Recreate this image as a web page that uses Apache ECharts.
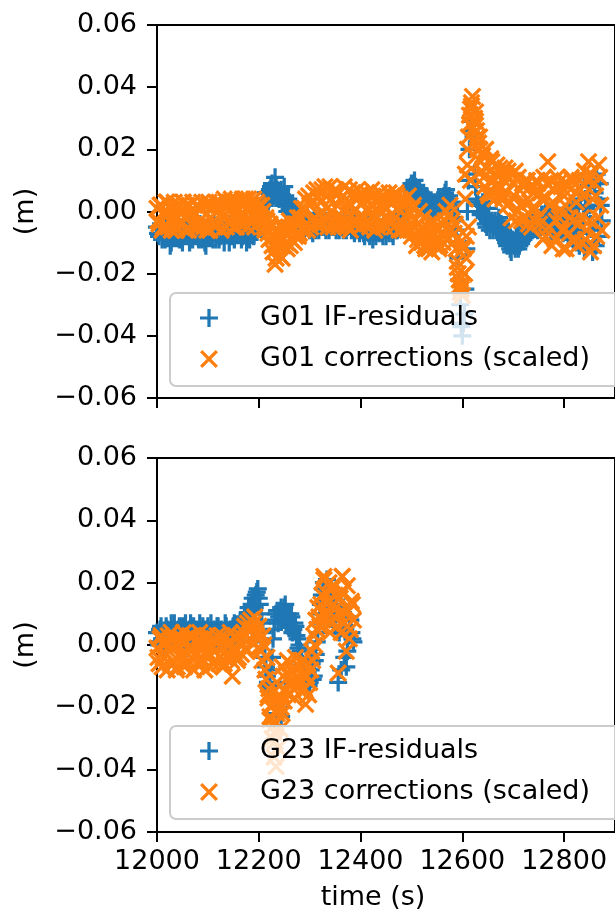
<!DOCTYPE html>
<html>
<head>
<meta charset="utf-8">
<script src="https://cdn.jsdelivr.net/npm/echarts@6/dist/echarts.min.js"></script>
<style>
html,body{margin:0;padding:0;background:#fff;}
#c{width:615px;height:915px;}
</style>
</head>
<body>
<div id="c"></div>
<script>
// ---------- DATA ----------
// sampling: set A at time = T0_A + i*DT, set B at time = T0_B + i*DT (s)
const T0_A = 12000;
const T0_B = 12002;
const DT = 4;
const xTicks = [12000, 12200, 12400, 12600, 12800];

const seriesNames = ['G01 IF-residuals', 'G01 corrections (scaled)', 'G23 IF-residuals', 'G23 corrections (scaled)'];

// G01 IF-residuals (m)
const g01ResidA = [
 -0.005,-0.008,-0.004,-0.007,-0.009,-0.005,-0.006,-0.010,-0.004,-0.007,
 -0.006,-0.009,-0.005,-0.008,-0.004,-0.007,-0.010,-0.006,-0.005,-0.008,
 -0.007,-0.004,-0.009,-0.006,-0.011,-0.005,-0.008,-0.006,-0.004,-0.009,
 -0.006,-0.008,-0.005,-0.010,-0.007,-0.004,-0.008,-0.006,-0.009,-0.005,
 -0.007,-0.004,-0.008,-0.006,-0.010,-0.005,-0.007,-0.004,-0.006,-0.003,
 -0.002,0.001,0.003,0.002,0.006,0.004,0.008,0.005,0.011,0.007,
 0.004,0.007,0.002,0.005,0.000,0.003,-0.001,0.001,-0.003,-0.001,
 -0.002,-0.004,-0.003,-0.005,-0.002,-0.006,-0.004,-0.003,-0.006,-0.004,
 -0.002,-0.005,-0.003,-0.006,-0.004,-0.002,-0.005,-0.003,-0.006,-0.004,
 -0.003,-0.005,-0.002,-0.006,-0.004,-0.003,-0.005,-0.007,-0.004,-0.005,
 -0.006,-0.004,-0.008,-0.005,-0.007,-0.004,-0.009,-0.006,-0.005,-0.007,
 -0.005,-0.008,-0.006,-0.004,-0.007,-0.005,-0.008,-0.004,-0.006,-0.003,
 -0.002,0.001,0.004,0.007,0.005,0.009,0.006,0.008,0.005,0.007,
 0.004,0.006,0.002,0.004,0.000,0.003,-0.001,0.002,0.000,0.003,
 0.002,0.005,0.007,0.004,0.001,0.003,-0.002,-0.006,-0.015,-0.030,
 -0.040,-0.033,-0.012,0.010,0.026,0.030,0.012,0.004,0.002,-0.001,
 0.003,-0.002,-0.005,0.001,-0.004,-0.006,-0.003,-0.005,-0.002,-0.004,
 -0.006,-0.009,-0.011,-0.008,-0.013,-0.010,-0.012,-0.009,-0.011,-0.007,
 -0.009,-0.006,-0.004,-0.007,-0.003,-0.005,-0.002,-0.006,-0.004,-0.001,
 -0.003,0.000,-0.005,-0.002,-0.007,-0.004,0.001,-0.003,-0.006,-0.002,
 -0.005,-0.001,-0.008,-0.003,0.002,-0.006,-0.010,-0.002,0.004,-0.007,
 -0.012,0.001,0.008,-0.004,-0.013,0.006,0.012,-0.008,0.002
];
const g01ResidB = [
 -0.007,-0.005,-0.009,-0.006,-0.004,-0.008,-0.011,-0.005,-0.008,-0.006,
 -0.004,-0.007,-0.010,-0.005,-0.008,-0.006,-0.004,-0.009,-0.007,-0.005,
 -0.009,-0.006,-0.005,-0.010,-0.007,-0.004,-0.006,-0.009,-0.007,-0.005,
 -0.009,-0.005,-0.007,-0.006,-0.004,-0.010,-0.005,-0.008,-0.006,-0.007,
 -0.005,-0.009,-0.006,-0.004,-0.007,-0.009,-0.005,-0.008,-0.004,-0.001,
 -0.001,0.002,0.004,0.006,0.003,0.007,0.009,0.006,0.008,0.005,
 0.006,0.003,0.008,0.002,0.004,0.001,0.002,-0.002,0.000,-0.003,
 -0.005,-0.002,-0.006,-0.003,-0.005,-0.003,-0.007,-0.002,-0.004,-0.006,
 -0.004,-0.002,-0.005,-0.003,-0.006,-0.004,-0.002,-0.005,-0.003,-0.006,
 -0.004,-0.006,-0.003,-0.005,-0.002,-0.006,-0.004,-0.003,-0.006,-0.007,
 -0.005,-0.007,-0.006,-0.004,-0.008,-0.006,-0.005,-0.008,-0.004,-0.006,
 -0.007,-0.004,-0.008,-0.006,-0.005,-0.007,-0.005,-0.006,-0.004,-0.001,
 0.000,0.003,0.005,0.004,0.008,0.006,0.010,0.007,0.004,0.006,
 0.005,0.003,0.005,0.001,0.002,-0.001,0.003,0.001,0.004,0.002,
 0.004,0.006,0.003,0.005,0.002,0.000,-0.003,-0.010,-0.022,-0.037,
 -0.036,-0.025,0.000,0.020,0.029,0.024,0.008,0.003,0.000,0.002,
 -0.001,-0.004,-0.002,-0.006,-0.003,-0.004,-0.006,-0.003,-0.005,-0.007,
 -0.008,-0.010,-0.007,-0.012,-0.009,-0.011,-0.008,-0.012,-0.010,-0.008,
 -0.007,-0.005,-0.008,-0.004,-0.006,-0.003,-0.005,-0.002,-0.005,-0.003,
 -0.001,-0.004,-0.003,-0.006,-0.001,-0.005,-0.002,-0.004,-0.003,-0.007,
 -0.003,-0.006,0.000,-0.005,-0.009,0.001,-0.004,-0.011,0.006,-0.002,
 0.004,-0.010,0.002,0.010,-0.006,-0.011,0.004,0.009,-0.003
];
// G01 corrections (scaled) (m)
const g01CorrA = [
 0.001,-0.004,0.002,-0.005,-0.001,0.003,-0.003,-0.006,0.001,-0.002,
 -0.005,0.002,-0.003,0.003,-0.006,-0.001,0.002,-0.004,0.000,-0.005,
 0.002,-0.003,0.003,-0.005,-0.001,0.002,-0.006,0.001,-0.003,0.003,
 -0.004,0.001,-0.002,0.004,-0.005,0.002,-0.003,0.003,-0.001,-0.005,
 0.003,-0.002,0.004,-0.004,0.001,0.004,-0.003,0.002,-0.005,0.003,
 0.002,-0.003,0.000,-0.006,-0.003,-0.009,-0.005,-0.013,-0.017,-0.006,
 -0.014,-0.004,-0.011,-0.007,-0.012,-0.003,-0.009,-0.005,-0.008,-0.002,
 -0.007,0.001,-0.005,0.004,-0.006,0.002,-0.003,0.006,-0.004,0.005,
 -0.004,0.007,-0.002,0.005,-0.005,0.008,0.000,-0.003,0.006,-0.005,
 0.004,-0.002,0.008,-0.004,0.003,-0.006,0.006,0.000,-0.003,0.005,
 -0.005,0.003,-0.002,0.006,-0.004,0.002,0.005,-0.006,0.001,0.004,
 -0.003,0.005,-0.005,0.001,0.006,-0.004,0.003,-0.002,0.005,-0.006,
 0.002,-0.004,0.004,-0.006,0.000,-0.008,0.002,-0.005,-0.009,0.000,
 -0.010,-0.002,-0.012,-0.005,-0.008,-0.013,-0.003,-0.009,-0.006,-0.011,
 -0.004,-0.008,0.000,-0.006,0.002,-0.003,-0.007,-0.012,-0.020,-0.026,
 -0.027,-0.020,-0.008,0.024,0.033,0.037,0.030,0.026,0.022,0.016,
 0.018,0.008,0.014,0.005,0.017,0.010,0.004,0.015,0.007,0.012,
 0.004,0.014,0.002,0.011,-0.002,0.009,0.013,0.000,0.007,-0.003,
 0.008,-0.002,0.010,0.003,-0.005,0.006,0.001,0.009,-0.004,0.004,
 0.011,-0.008,0.016,0.002,-0.011,0.007,-0.003,0.009,0.000,-0.006,
 0.005,-0.012,0.008,-0.002,0.010,-0.009,0.003,-0.004,0.007,-0.010,
 0.013,-0.006,0.016,-0.013,0.004,0.009,-0.008,0.015,0.002
];
const g01CorrB = [
 -0.003,0.002,-0.006,0.000,0.003,-0.005,0.001,-0.002,0.003,-0.006,
 0.001,-0.004,0.003,-0.002,0.002,-0.006,-0.001,0.003,-0.005,0.002,
 -0.005,0.001,-0.004,0.002,-0.006,0.003,-0.002,0.002,-0.005,0.000,
 0.003,-0.006,0.002,-0.001,0.003,-0.004,0.004,-0.005,0.002,0.001,
 -0.004,0.003,-0.002,0.004,-0.005,0.002,-0.001,0.004,-0.001,-0.004,
 -0.001,0.002,-0.005,-0.002,-0.007,-0.004,-0.011,-0.008,-0.015,-0.011,
 -0.009,-0.015,-0.006,-0.010,-0.005,-0.011,-0.006,-0.010,-0.004,-0.008,
 -0.002,-0.006,0.001,-0.004,0.005,-0.005,0.003,-0.002,0.007,-0.001,
 0.003,-0.004,0.008,0.001,-0.002,0.004,-0.005,0.007,0.002,0.006,
 -0.004,0.005,0.001,-0.005,0.007,0.002,-0.004,0.004,0.007,-0.002,
 0.006,-0.004,0.004,0.000,-0.005,0.007,-0.002,0.003,-0.005,0.006,
 0.002,-0.004,0.004,-0.002,0.003,0.005,-0.005,0.006,0.001,0.004,
 -0.006,0.002,-0.002,0.005,-0.006,0.001,-0.003,-0.011,-0.004,-0.007,
 -0.005,-0.011,-0.007,-0.012,-0.004,-0.008,-0.011,-0.005,-0.012,-0.007,
 -0.010,-0.003,-0.009,-0.001,-0.006,-0.010,-0.004,-0.016,-0.024,-0.025,
 -0.011,0.012,0.020,0.031,0.035,0.027,0.029,0.020,0.024,0.013,
 0.011,0.020,0.006,0.013,0.016,0.006,0.012,0.009,0.014,0.005,
 0.010,0.006,0.013,0.003,0.012,0.005,-0.003,0.011,0.002,0.009,
 0.003,0.010,-0.004,0.008,0.001,-0.003,0.010,-0.002,0.006,-0.009,
 0.004,0.009,-0.005,0.010,0.003,-0.009,0.011,-0.002,0.008,-0.012,
 0.002,0.009,-0.007,0.011,-0.003,0.006,-0.011,0.010,-0.002,0.005,
 -0.009,0.010,-0.003,0.012,-0.011,0.005,-0.002,0.011,-0.006
];
// extra G01 correction samples inside the 12600 s jump
const g01CorrExtraT = [12590,12594,12598,12602,12604,12606,12608,12610,12612,12614,12616,12618,12622,12626,12630,12634];
const g01CorrExtraV = [-0.018,-0.022,-0.024,-0.012,-0.020,0.004,-0.015,0.015,-0.005,0.028,0.010,0.034,0.029,0.032,0.024,0.020];

// G23 IF-residuals (m)
const g23ResidA = [
 0.004,0.000,0.006,0.002,-0.001,0.005,0.003,0.007,0.001,0.004,
 0.002,0.006,-0.001,0.004,0.007,0.001,0.005,0.002,0.006,0.000,
 0.004,0.007,0.002,0.005,0.000,0.006,0.003,0.001,0.005,0.002,
 0.006,0.001,0.004,0.003,0.006,0.000,0.005,0.002,0.007,0.004,
 0.005,0.008,0.004,0.009,0.007,0.012,0.010,0.015,0.012,0.017,
 0.015,0.010,0.004,-0.004,-0.010,-0.014,-0.008,0.002,0.008,0.011,
 0.009,0.012,0.008,0.013,0.010,0.007,0.009,0.005,0.006,0.002,
 0.000,-0.004,-0.008,-0.011,-0.009,-0.012,-0.006,-0.010,-0.003,0.004,
 0.010,0.016,0.020,0.014,0.018,0.011,0.015,0.008,0.012,-0.012,
 0.006,0.010,-0.004,-0.007,0.003,0.008,0.002
];
const g23ResidB = [
 0.001,0.005,0.002,-0.001,0.006,0.003,0.000,0.004,0.007,0.002,
 0.005,0.001,0.006,0.003,-0.001,0.004,0.007,0.001,0.003,0.005,
 0.001,0.003,0.006,0.002,0.005,0.001,0.007,0.004,0.002,0.006,
 0.003,0.005,0.001,0.007,0.002,0.004,0.001,0.006,0.003,0.006,
 0.003,0.006,0.008,0.005,0.010,0.008,0.013,0.011,0.016,0.018,
 0.013,0.007,0.001,-0.007,-0.012,-0.013,-0.004,0.005,0.010,0.007,
 0.011,0.009,0.012,0.008,0.006,0.010,0.004,0.007,0.003,-0.001,
 -0.002,-0.006,-0.010,-0.007,-0.013,-0.008,-0.011,-0.005,0.001,0.007,
 0.013,0.018,0.012,0.021,0.015,0.009,0.013,0.006,0.010,0.004,
 -0.008,0.012,0.005,-0.002,0.009,0.004,0.001
];
const g23ResidExtraT = [12232,12236,12240,12244,12248,12252];
const g23ResidExtraV = [-0.018,-0.022,-0.020,-0.023,-0.016,-0.012];

// G23 corrections (scaled) (m)
const g23CorrA = [
 -0.001,-0.006,0.003,-0.004,0.001,-0.008,-0.002,0.004,-0.005,0.000,
 -0.007,0.002,-0.003,0.004,-0.006,-0.001,0.003,-0.004,-0.008,0.001,
 -0.003,0.004,-0.006,0.000,-0.002,0.003,-0.007,-0.001,0.002,-0.005,
 0.001,-0.004,0.003,-0.006,0.000,-0.003,0.004,-0.010,-0.002,0.002,
 -0.004,0.003,0.000,0.006,-0.002,0.005,0.008,0.001,0.009,0.003,
 0.006,-0.002,0.003,-0.008,-0.004,-0.014,-0.020,-0.026,-0.031,-0.022,
 -0.016,-0.020,-0.010,-0.015,-0.005,-0.012,-0.008,-0.014,-0.004,-0.011,
 -0.007,-0.015,-0.009,-0.019,-0.006,-0.012,-0.002,0.003,0.008,0.012,
 0.006,0.016,0.021,0.010,0.014,0.004,0.018,0.009,0.012,-0.009,
 0.015,0.022,0.007,-0.002,0.011,0.005,0.013
];
const g23CorrB = [
 -0.004,0.002,-0.007,0.000,-0.003,0.003,-0.006,-0.001,0.002,-0.008,
 0.000,-0.004,0.002,-0.007,0.001,-0.005,-0.002,0.003,-0.003,-0.006,
 0.002,-0.005,0.001,-0.008,0.003,-0.004,0.000,-0.006,-0.002,0.003,
 -0.006,0.000,-0.007,0.002,-0.004,0.001,-0.005,-0.002,0.003,-0.005,
 0.001,-0.003,0.004,-0.001,0.007,0.002,0.005,0.007,0.004,-0.001,
 0.002,-0.005,0.000,-0.011,-0.017,-0.023,-0.019,-0.028,-0.025,-0.018,
 -0.013,-0.007,-0.018,-0.009,-0.016,-0.006,-0.012,-0.017,-0.008,-0.013,
 -0.011,-0.005,-0.014,-0.010,-0.016,-0.008,-0.005,0.000,0.005,0.009,
 0.013,0.008,0.017,0.013,0.020,0.007,0.013,0.016,0.006,0.010,
 0.004,0.017,0.010,0.019,0.002,0.014,0.008
];
const g23CorrExtraT = [12218,12222,12226,12230,12234,12238,12242,12246,12328,12348,12364];
const g23CorrExtraV = [-0.016,-0.024,-0.030,-0.036,-0.039,-0.033,-0.027,-0.022,0.022,0.019,0.022];

// ---------- BUILD ----------
function pairs(valsA, valsB, extraT, extraV) {
  const out = [];
  valsA.forEach((v, i) => out.push([T0_A + i * DT, v]));
  valsB.forEach((v, i) => out.push([T0_B + i * DT, v]));
  (extraT || []).forEach((t, i) => out.push([t, extraV[i]]));
  out.sort((a, b) => a[0] - b[0]);
  return out;
}

const PLUS = 'path://M8.2,0H11.8V20H8.2Z M0,8.2H20V11.8H0Z';
const CROSS = 'path://M0,2.6L2.6,0L20,17.4L17.4,20Z M17.4,0L20,2.6L2.6,20L0,17.4Z';
const BLUE = '#1f77b4', ORANGE = '#ff7f0e';
const FONT = 'DejaVu Sans';
const FS = 27;

function fmtY(v) {
  const s = Math.abs(v).toFixed(2);
  return (v < -1e-9 ? '\u2212' : '') + s;
}

const gridsDef = [
  { left: 157, top: 25, width: 468, height: 373 },
  { left: 157, top: 458, width: 468, height: 374 }
];

const grid = gridsDef.map(g => Object.assign({
  show: true, borderColor: '#000', borderWidth: 2, backgroundColor: 'transparent'
}, g));

const xAxis = [0, 1].map(i => ({
  type: 'value', gridIndex: i, min: 12000, max: 12900, interval: 200,
  splitLine: { show: false },
  axisLine: { show: true, onZero: false, lineStyle: { color: '#000', width: 2 } },
  axisTick: { show: true, inside: false, length: 10, lineStyle: { color: '#000', width: 2 },
              customValues: xTicks },
  axisLabel: { show: i === 1, margin: 16, color: '#000', fontFamily: FONT, fontSize: FS,
               customValues: xTicks, formatter: v => String(v) },
  name: i === 1 ? 'time (s)' : '',
  nameLocation: 'middle', nameGap: 52,
  nameTextStyle: { color: '#000', fontFamily: FONT, fontSize: FS, padding: [0, 26, 0, 0] }
}));

const yAxis = [0, 1].map(i => ({
  type: 'value', gridIndex: i, min: -0.06, max: 0.06, interval: 0.02,
  splitLine: { show: false },
  axisLine: { show: true, onZero: false, lineStyle: { color: '#000', width: 2 } },
  axisTick: { show: true, inside: false, length: 10, lineStyle: { color: '#000', width: 2 } },
  axisLabel: { margin: 20, color: '#000', fontFamily: FONT, fontSize: FS, formatter: fmtY },
  name: '(m)', nameLocation: 'middle', nameGap: 118, nameRotate: 90,
  nameTextStyle: { color: '#000', fontFamily: FONT, fontSize: FS }
}));

function sc(name, idx, data, color, sym) {
  return {
    type: 'scatter', name: name, xAxisIndex: idx, yAxisIndex: idx,
    data: data, symbol: sym, symbolSize: 18,
    itemStyle: { color: color, opacity: 1 },
    emphasis: { disabled: true }, silent: true, animation: false
  };
}

const series = [
  sc(seriesNames[0], 0, pairs(g01ResidA, g01ResidB), BLUE, PLUS),
  sc(seriesNames[1], 0, pairs(g01CorrA, g01CorrB, g01CorrExtraT, g01CorrExtraV), ORANGE, CROSS),
  sc(seriesNames[2], 1, pairs(g23ResidA, g23ResidB, g23ResidExtraT, g23ResidExtraV), BLUE, PLUS),
  sc(seriesNames[3], 1, pairs(g23CorrA, g23CorrB, g23CorrExtraT, g23CorrExtraV), ORANGE, CROSS)
];

function legendAt(top, names) {
  return {
    show: true, orient: 'vertical', left: 170, top: top,
    padding: [10, 40, 12, 30], itemGap: 11, itemWidth: 18, itemHeight: 18,
    backgroundColor: 'rgba(255,255,255,0.8)', borderColor: '#cccccc', borderWidth: 2, borderRadius: 6,
    selectedMode: false,
    textStyle: { color: '#000', fontFamily: FONT, fontSize: FS, lineHeight: 30, padding: [0, 0, 0, 37] },
    data: [{ name: names[0], icon: PLUS }, { name: names[1], icon: CROSS }]
  };
}

const chart = echarts.init(document.getElementById('c'), null, { renderer: 'canvas' });
chart.setOption({
  animation: false,
  backgroundColor: '#fff',
  grid: grid,
  xAxis: xAxis,
  yAxis: yAxis,
  legend: [legendAt(293, seriesNames.slice(0, 2)), legendAt(726, seriesNames.slice(2, 4))],
  series: series
});
</script>
</body>
</html>
